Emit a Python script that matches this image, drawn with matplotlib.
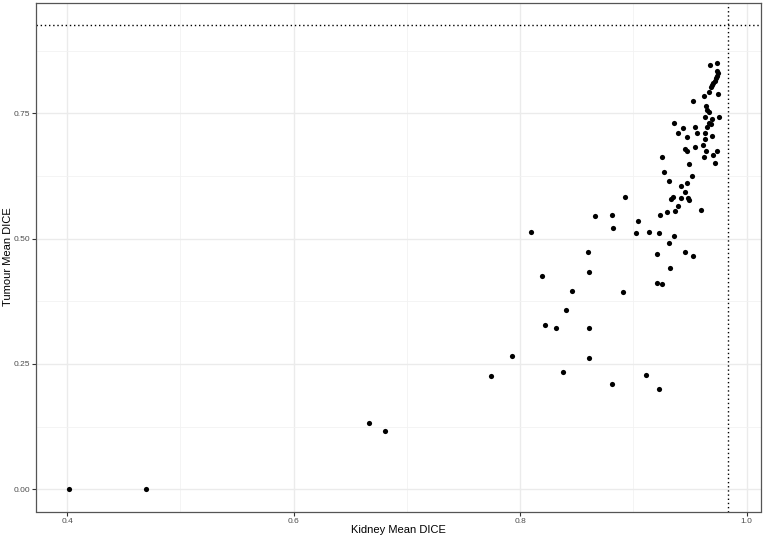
import matplotlib
matplotlib.use('Agg')
import matplotlib.pyplot as plt
from matplotlib.ticker import MultipleLocator

plt.rcParams['font.family'] = ['Liberation Sans', 'DejaVu Sans']

# kidney / tumour mean DICE per case
kidney_dice = [0.9676, 0.9741, 0.9741, 0.9747, 0.9741, 0.9729, 0.9718, 0.9705, 0.9697, 0.9685,
               0.9670, 0.9626, 0.9747, 0.9524, 0.9641, 0.9647, 0.9665, 0.9629, 0.9694, 0.9758,
               0.9670, 0.9682, 0.9647, 0.9361, 0.9435, 0.9396, 0.9544, 0.9559, 0.9635, 0.9476,
               0.9635, 0.9697, 0.9456, 0.9471, 0.9547, 0.9612, 0.9641, 0.9735, 0.9705, 0.9626,
               0.9718, 0.9253, 0.9494, 0.9268, 0.9520, 0.9312, 0.9420, 0.9471, 0.9453, 0.8926,
               0.9329, 0.9347, 0.9420, 0.9485, 0.9494, 0.9391, 0.8809, 0.9294, 0.9367, 0.9235,
               0.9594, 0.9038, 0.8823, 0.9023, 0.9135, 0.9229, 0.9359, 0.9314, 0.9206, 0.9458,
               0.9526, 0.9321, 0.9206, 0.9255, 0.8906, 0.8662, 0.8094, 0.8602, 0.8611, 0.8194,
               0.8456, 0.8400, 0.8218, 0.8320, 0.8609, 0.7932, 0.8609, 0.7744, 0.8382, 0.8814,
               0.9109, 0.9229, 0.6664, 0.6809, 0.4018, 0.4694]
tumour_dice = [0.8464, 0.8510, 0.8344, 0.8298, 0.8244, 0.8199, 0.8151, 0.8111, 0.8071, 0.8019,
               0.7931, 0.7851, 0.7891, 0.7752, 0.7652, 0.7566, 0.7527, 0.7433, 0.7387, 0.7421,
               0.7301, 0.7287, 0.7221, 0.7313, 0.7201, 0.7101, 0.7221, 0.7101, 0.7114, 0.7022,
               0.6994, 0.7054, 0.6794, 0.6754, 0.6834, 0.6874, 0.6742, 0.6754, 0.6675, 0.6623,
               0.6515, 0.6635, 0.6489, 0.6324, 0.6250, 0.6144, 0.6056, 0.6104, 0.5925, 0.5825,
               0.5797, 0.5825, 0.5811, 0.5805, 0.5771, 0.5657, 0.5478, 0.5538, 0.5546, 0.5466,
               0.5572, 0.5346, 0.5206, 0.5119, 0.5139, 0.5113, 0.5047, 0.4913, 0.4694, 0.4734,
               0.4648, 0.4421, 0.4121, 0.4089, 0.3936, 0.5446, 0.5139, 0.4734, 0.4329, 0.4249,
               0.3956, 0.3577, 0.3271, 0.3224, 0.3212, 0.2659, 0.2619, 0.2260, 0.2334, 0.2107,
               0.2286, 0.1995, 0.1317, 0.1169, 0.0, 0.0]

kidney_ref = 0.9838
tumour_ref = 0.9256

fig = plt.figure(figsize=(7.65, 5.4), dpi=100)
ax = fig.add_axes([36/765, 1 - 511.5/540, (761 - 36)/765, (511.5 - 3.3)/540])

ax.scatter(kidney_dice, tumour_dice, s=14, color='black', linewidths=0, zorder=3)
ax.axvline(kidney_ref, color='black', linestyle=(0, (1, 2)), lw=1, zorder=2)
ax.axhline(tumour_ref, color='black', linestyle=(0, (1, 2)), lw=1, zorder=2)

ax.set_xlim(0.3725, 1.0126)
ax.set_ylim(-0.0443, 0.9695)
ax.xaxis.set_minor_locator(MultipleLocator(0.1))
ax.yaxis.set_minor_locator(MultipleLocator(0.125))
ax.set_xticks([0.4, 0.6, 0.8, 1.0])
ax.set_xticklabels(['0.4', '0.6', '0.8', '1.0'])
ax.set_yticks([0.0, 0.25, 0.5, 0.75])
ax.set_yticklabels(['0.00', '0.25', '0.50', '0.75'])

ax.grid(which='major', color='#ebebeb', lw=1.0, zorder=0)
ax.grid(which='minor', color='#f2f2f2', lw=0.6, zorder=0)
ax.set_axisbelow(True)
ax.tick_params(which='major', length=3, width=0.8, color='#333333',
               labelsize=6, labelcolor='#4d4d4d', pad=1.5)
ax.tick_params(which='minor', length=0)
for sp in ax.spines.values():
    sp.set_color('#555555')
    sp.set_linewidth(0.9)

ax.set_xlabel('Kidney Mean DICE', fontsize=8)
ax.xaxis.set_label_coords(0.5, -0.027)
fig.text(8.5/765, 1 - 257/540, 'Tumour Mean DICE', fontsize=8, rotation=90,
         ha='center', va='center')

fig.savefig('out.png', dpi=100)
